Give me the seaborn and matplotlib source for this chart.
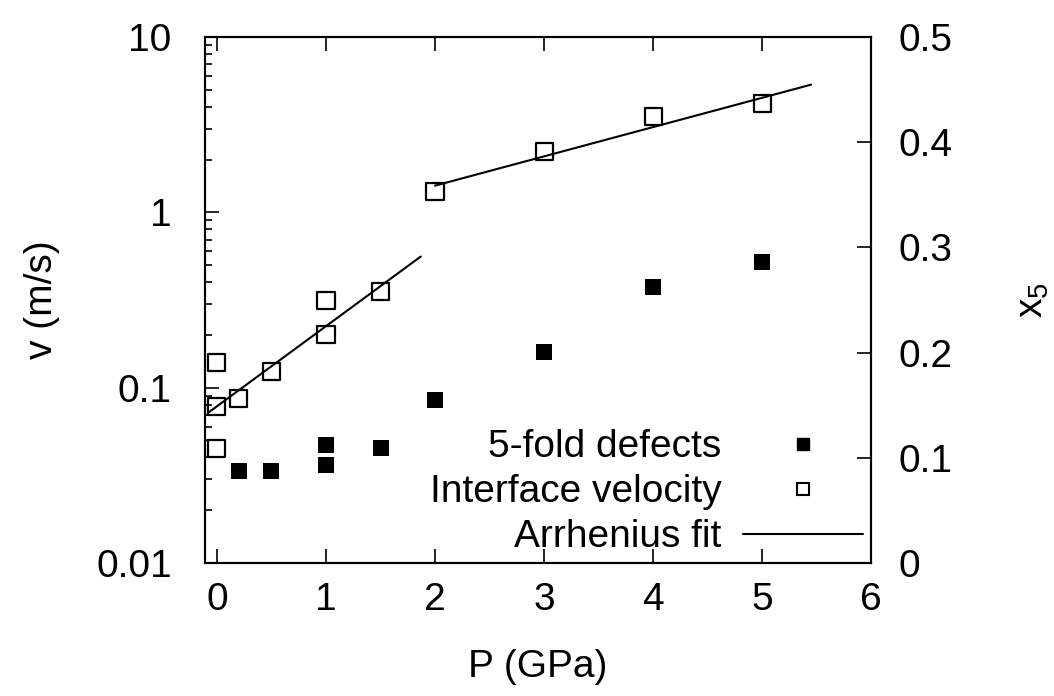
import numpy as np
import pandas as pd
import seaborn as sns
import matplotlib.pyplot as plt
from matplotlib.lines import Line2D
from matplotlib.ticker import LogLocator, NullFormatter, FixedLocator, FixedFormatter

# interface velocity (left, log axis)
pressure_v = [0, 0, 0, 0.2, 0.5, 1, 1, 1.5, 2, 3, 4, 5]
velocity = [0.14, 0.078, 0.045, 0.087, 0.123, 0.20, 0.315, 0.355, 1.32, 2.22, 3.5, 4.15]

# 5-fold defect fraction (right axis)
pressure_x5 = [0.2, 0.5, 1, 1, 1.5, 2, 3, 4, 5]
x5 = [0.087, 0.087, 0.093, 0.112, 0.109, 0.155, 0.201, 0.262, 0.286]

# Arrhenius fit segments (end points)
fit_low_p = [-0.08, 1.87]
fit_low_v = [0.072, 0.56]
fit_high_p = [2.0, 5.45]
fit_high_v = [1.42, 5.35]

x_ticks = [0, 1, 2, 3, 4, 5, 6]
v_ticks = [0.01, 0.1, 1, 10]
v_tick_labels = ['0.01', '0.1', '1', '10']
x5_ticks = [0, 0.1, 0.2, 0.3, 0.4, 0.5]
x5_tick_labels = ['0', '0.1', '0.2', '0.3', '0.4', '0.5']

sns.set_style('ticks', {'text.color': 'black', 'axes.labelcolor': 'black',
                        'xtick.color': 'black', 'ytick.color': 'black',
                        'axes.edgecolor': 'black'})
plt.rcParams['font.family'] = ['Liberation Sans', 'DejaVu Sans']
plt.rcParams['mathtext.default'] = 'regular'
plt.rcParams['axes.linewidth'] = 1.5

fig, ax = plt.subplots(figsize=(10.54, 6.96), dpi=100)
fig.subplots_adjust(left=0.1945, right=0.8264, top=0.9468, bottom=0.1911)
ax2 = ax.twinx()

for fp, fv in [(fit_low_p, fit_low_v), (fit_high_p, fit_high_v)]:
    sns.lineplot(x=fp, y=fv, ax=ax, color='black', linewidth=1.5, zorder=2)

sns.scatterplot(x=pressure_v, y=velocity, ax=ax, marker='s', s=150,
                color='black', edgecolor='black', linewidth=1.6, zorder=3)
ax.collections[-1].set_facecolor('none')
sns.scatterplot(x=pressure_x5, y=x5, ax=ax2, marker='s', s=130,
                color='black', edgecolor='black', linewidth=0, zorder=3)

ax.set_yscale('log')
ax.set_ylim(0.01, 10)
ax.set_xlim(-0.11, 6)
ax2.set_ylim(0, 0.5)

ax.xaxis.set_major_locator(FixedLocator(x_ticks))
ax.yaxis.set_major_locator(FixedLocator(v_ticks))
ax.yaxis.set_major_formatter(FixedFormatter(v_tick_labels))
ax.yaxis.set_minor_locator(LogLocator(base=10, subs=np.arange(2, 10)))
ax.yaxis.set_minor_formatter(NullFormatter())
ax2.yaxis.set_major_locator(FixedLocator(x5_ticks))
ax2.yaxis.set_major_formatter(FixedFormatter(x5_tick_labels))

ax.tick_params(axis='both', which='both', direction='in', labelsize=28, width=1.2,
               colors='black')
ax.tick_params(axis='x', which='major', length=10, top=True, pad=14)
ax.tick_params(axis='y', which='major', length=10, right=False, pad=24)
ax.tick_params(axis='y', which='minor', length=5, right=False)
ax2.tick_params(axis='y', which='major', direction='in', length=10, width=1.2,
                labelsize=28, left=False, right=True, pad=20, colors='black')

ax.set_xlabel('P (GPa)', fontsize=28, labelpad=22, color='black')
ax.set_ylabel('v (m/s)', fontsize=28, labelpad=26, color='black')
ax2.set_ylabel('x$_5$', fontsize=28, labelpad=45, color='black')

handles = [
    Line2D([], [], marker='s', color='black', linestyle='none', markersize=8),
    Line2D([], [], marker='s', markerfacecolor='white', markeredgecolor='black',
           linestyle='none', markersize=8, markeredgewidth=1.5),
    Line2D([], [], color='black', linewidth=1.5),
]
labels = ['5-fold defects', 'Interface velocity', 'Arrhenius fit']
leg = ax2.legend(handles, labels, loc='lower right', markerfirst=False, frameon=False,
                 fontsize=28, handlelength=3.1, handletextpad=0.55, labelspacing=0.23,
                 borderaxespad=0.2, borderpad=0)
for t in leg.get_texts():
    t.set_color('black')

fig.savefig('out.png', dpi=100)
